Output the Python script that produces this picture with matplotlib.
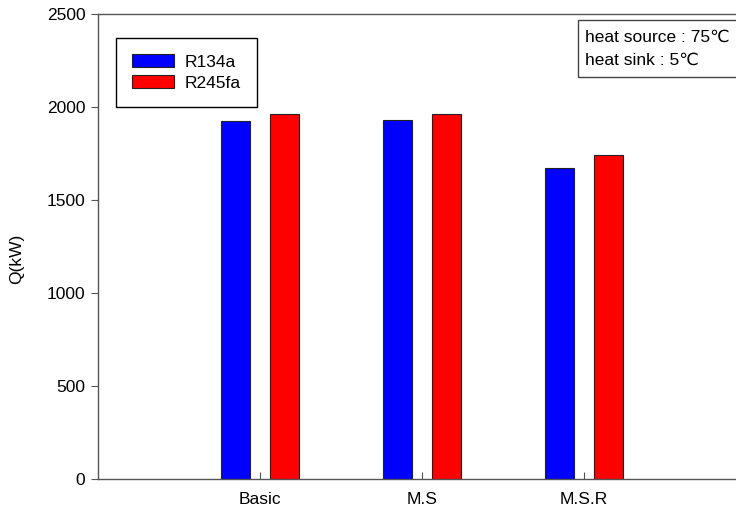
import matplotlib
matplotlib.use("Agg")
import matplotlib.pyplot as plt
from matplotlib.patches import Rectangle
import numpy as np

plt.rcParams['font.family'] = ['Liberation Sans', 'DejaVu Sans']

categories = ["Basic", "M.S", "M.S.R"]
r134a = [1927, 1928, 1672]
r245fa = [1964, 1961, 1740]
series_names = ["R134a", "R245fa"]
note_lines = ["heat source : 75\u2103", "heat sink : 5\u2103"]

fig = plt.figure(figsize=(7.36, 5.11), dpi=100)
ax = fig.add_axes([98/736, 32/511, 648/736, 465/511])

x = np.arange(1, len(categories) + 1)
w = 0.18
off = 0.15
ax.bar(x - off, r134a, width=w, color="#0000ff", edgecolor="#222222", linewidth=0.8, label=series_names[0])
ax.bar(x + off, r245fa, width=w, color="#ff0000", edgecolor="#222222", linewidth=0.8, label=series_names[1])

fs = 12.5
ax.set_xlim(0, 4)
ax.set_ylim(0, 2500)
ax.set_yticks([0, 500, 1000, 1500, 2000, 2500])
ax.set_xticks(x)
ax.set_xticklabels(categories)
ax.tick_params(axis='y', direction='out', length=5, width=0.8, colors='#555555', labelcolor='black', labelsize=fs, pad=4)
ax.tick_params(axis='x', direction='in', length=5, width=0.8, colors='#555555', labelcolor='black', labelsize=fs, pad=9)
for s in ax.spines.values():
    s.set_color('#555555')
    s.set_linewidth(1.0)
ax.set_ylabel("Q(kW)", fontsize=fs)
ax.yaxis.set_label_coords(-(98 - 24) / 648, (479 - 259) / 465)

leg = ax.legend(loc='upper left', bbox_to_anchor=(18/648, 1 - 24/465), fontsize=fs,
                frameon=True, fancybox=False, edgecolor='black', framealpha=1,
                handlelength=2.4, handleheight=0.75, borderpad=0.95, labelspacing=0.3,
                handletextpad=0.6, borderaxespad=0)
leg.get_frame().set_linewidth(1.0)

# annotation box (pixel geometry converted to axes fraction)
def ax_x(px):
    return (px - 98) / 648

def ax_y(py):
    return (479 - py) / 465

ax.add_patch(Rectangle((ax_x(578), ax_y(77)), ax_x(800) - ax_x(578), ax_y(20) - ax_y(77),
                       transform=ax.transAxes, facecolor='white', edgecolor='#444444',
                       linewidth=1.0, clip_on=False, zorder=5))
for i, line in enumerate(note_lines):
    ax.text(ax_x(585), ax_y(37 + 23 * i), line, transform=ax.transAxes, fontsize=fs,
            va='center', ha='left', zorder=6)

fig.savefig("out.png", dpi=100)
